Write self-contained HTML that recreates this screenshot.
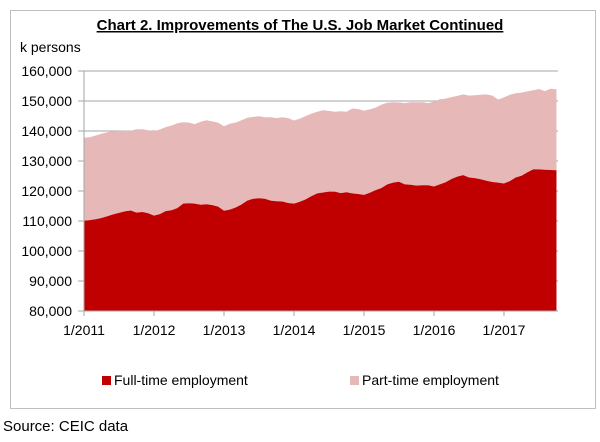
<!DOCTYPE html>
<html><head><meta charset="utf-8"><style>
body{margin:0;background:#fff;font-family:"Liberation Sans",sans-serif}
svg text{font-family:"Liberation Sans",sans-serif;fill:#000}
</style></head><body>
<svg width="600" height="437">
<rect x="10.5" y="10.5" width="585" height="398" fill="#fff" stroke="#bfbfbf"/>
<text x="300" y="30" text-anchor="middle" font-size="15" font-weight="bold" text-decoration="underline">Chart 2. Improvements  of The U.S. Job Market Continued</text>
<text x="20" y="52" font-size="14">k persons</text>
<g id="grid"></g><g id="areas"></g><g id="axes"></g>
<rect x="102" y="376" width="9" height="9" fill="#c00000"/>
<text x="114" y="385" font-size="14">Full-time employment</text>
<rect x="350" y="376" width="9" height="9" fill="#e6b9b8"/>
<text x="362" y="385" font-size="14">Part-time employment</text>
<text x="3" y="431" font-size="15">Source: CEIC data</text>
</svg>
<script>
const fullTime=[110.1,110.3,110.6,111.0,111.6,112.2,112.7,113.2,113.5,112.8,113.0,112.6,111.8,112.3,113.3,113.6,114.3,115.8,115.9,115.8,115.4,115.6,115.3,114.8,113.4,113.8,114.5,115.5,116.8,117.4,117.6,117.4,116.8,116.6,116.5,116.0,115.8,116.4,117.2,118.3,119.2,119.5,119.8,119.8,119.3,119.6,119.2,119.0,118.7,119.4,120.3,121.0,122.2,122.8,123.1,122.2,122.1,121.8,121.9,121.9,121.5,122.2,122.9,124.0,124.8,125.3,124.5,124.3,123.9,123.4,123.0,122.8,122.5,123.3,124.5,125.1,126.2,127.2,127.2,127.1,127.0,126.9];
const partTime=[27.7,27.6,27.9,28.1,28.0,27.7,27.3,26.9,26.6,27.8,27.6,27.7,28.1,28.2,28.0,28.2,28.3,27.1,26.9,26.5,27.7,28.0,27.9,28.0,28.2,28.6,28.3,28.1,27.6,27.3,27.3,27.2,27.8,27.7,28.1,28.3,27.7,27.7,27.8,27.5,27.2,27.4,26.9,26.6,27.3,26.8,28.3,28.3,28.1,27.8,27.5,27.8,27.2,26.8,26.4,27.1,27.5,27.8,27.7,27.4,28.3,28.4,27.9,27.3,26.9,26.9,27.3,27.6,28.2,28.8,28.8,27.7,28.7,28.8,28.1,27.7,27.0,26.4,26.8,26.2,27.1,27.0];
const yTicks=[80000,90000,100000,110000,120000,130000,140000,150000,160000];
const xTickLabels=["1/2011","1/2012","1/2013","1/2014","1/2015","1/2016","1/2017"];
const NS="http://www.w3.org/2000/svg";
const X0=84,PX=5.833,Y0=311,Y1=71,VMIN=80000,VMAX=160000;
const xs=i=>X0+i*PX;
const ys=v=>Y0-(v-VMIN)/(VMAX-VMIN)*(Y0-Y1);
function mk(t,a,p){const e=document.createElementNS(NS,t);for(const k in a)e.setAttribute(k,a[k]);p.appendChild(e);return e;}
const gridG=document.getElementById('grid'),areasG=document.getElementById('areas'),axesG=document.getElementById('axes');
yTicks.forEach(v=>{
 const g=mk('line',{x1:X0,x2:558,y1:ys(v),y2:ys(v),stroke:'#a6a6a6'},gridG);
 
 
 const tk=mk('line',{x1:78,x2:X0,y1:ys(v),y2:ys(v),stroke:'#a6a6a6'},axesG);
 
 
 const t=mk('text',{x:72,y:ys(v)+5,'text-anchor':'end','font-size':14},axesG);
 t.textContent=v.toLocaleString('en-US');
 
 
});
const n=fullTime.length;
const totals=fullTime.map((f,i)=>f+partTime[i]);
const topPts=totals.map((v,i)=>xs(i)+','+ys(v*1000)).join(' ');
const midPts=fullTime.map((v,i)=>xs(i)+','+ys(v*1000));
const pa=mk('polygon',{points:topPts+' '+midPts.slice().reverse().join(' '),fill:'#e6b9b8'},areasG);


const fa=mk('polygon',{points:xs(0)+','+Y0+' '+midPts.join(' ')+' '+xs(n-1)+','+Y0,fill:'#c00000'},areasG);


const ya=mk('line',{x1:X0,x2:X0,y1:Y1,y2:Y0,stroke:'#a6a6a6'},axesG);


const xa=mk('line',{x1:X0,x2:xs(n-1),y1:Y0,y2:Y0,stroke:'#a6a6a6'},axesG);


xTickLabels.forEach((l,k)=>{
 const x=xs(k*12);
 const tk=mk('line',{x1:x,x2:x,y1:Y0,y2:Y0+5,stroke:'#a6a6a6'},axesG);
 
 
 const t=mk('text',{x:x,y:335,'text-anchor':'middle','font-size':14},axesG);
 t.textContent=l;
 
 
});
</script>
</body></html>
